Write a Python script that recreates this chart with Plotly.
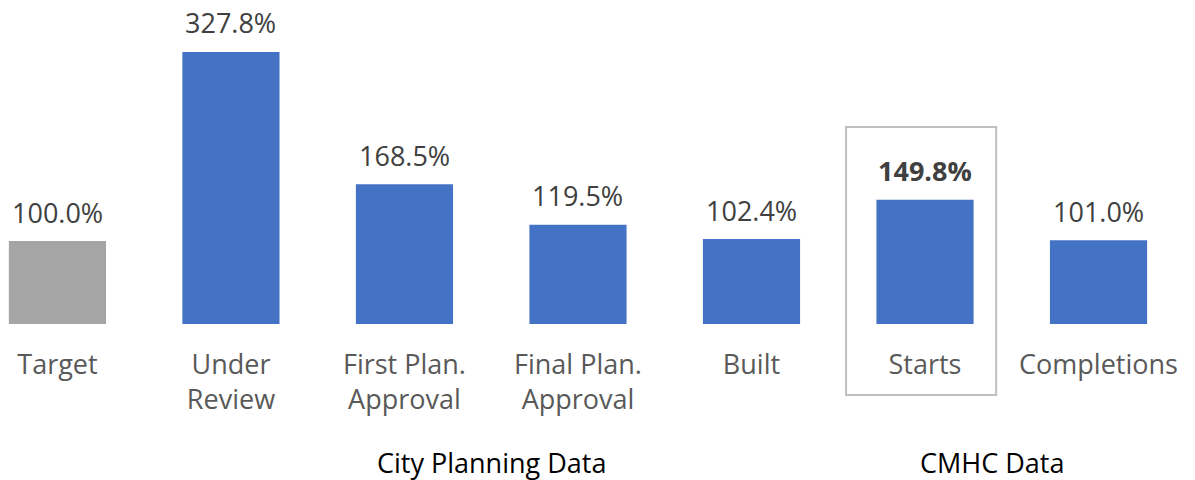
import plotly.graph_objects as go

categories = ["Target", "Under Review", "First Plan. Approval", "Final Plan. Approval", "Built", "Starts", "Completions"]
tick_labels = ["Target", "Under<br>Review", "First Plan.<br>Approval", "Final Plan.<br>Approval", "Built", "Starts", "Completions"]
values = [100.0, 327.8, 168.5, 119.5, 102.4, 149.8, 101.0]
bar_colors = ["#A5A5A5", "#4472C4", "#4472C4", "#4472C4", "#4472C4", "#4472C4", "#4472C4"]
groups = ["City Planning Data", "CMHC Data"]

labels = [f"{v:.1f}%" for v in values]
labels[5] = f"<b>{values[5]:.1f}%</b>"

FONT = "Open Sans"
FS = 27

fig = go.Figure()
fig.add_trace(go.Bar(
    x=list(range(len(categories))),
    y=values,
    marker=dict(color=bar_colors, line=dict(width=0)),
    width=0.56,
    cliponaxis=False,
    hovertext=categories,
))

for i, (v, lab) in enumerate(zip(values, labels)):
    fig.add_annotation(x=i, y=v, xref="x", yref="y", text=lab, showarrow=False,
                       yanchor="middle", xanchor="center", yshift=29,
                       font=dict(family=FONT, size=FS, color="#404040"))

fig.add_shape(type="rect", xref="x", yref="paper",
              x0=5 - 0.455, x1=5 + 0.41, y0=-0.219, y1=0.608,
              line=dict(color="#BFBFBF", width=2), fillcolor="rgba(0,0,0,0)")

fig.add_annotation(x=2.504, y=-0.429, xref="x", yref="paper", text=groups[0],
                   showarrow=False, font=dict(family=FONT, size=FS, color="#000000"),
                   xanchor="center", yanchor="middle")
fig.add_annotation(x=5.386, y=-0.429, xref="x", yref="paper", text=groups[1],
                   showarrow=False, font=dict(family=FONT, size=FS, color="#000000"),
                   xanchor="center", yanchor="middle")

fig.update_layout(
    width=1195, height=480,
    margin=dict(l=0, r=0, t=0, b=156),
    plot_bgcolor="white", paper_bgcolor="white",
    showlegend=False,
    xaxis=dict(range=[-0.331, 6.556], tickmode="array", automargin=False,
               tickvals=list(range(len(categories))), ticktext=tick_labels,
               tickfont=dict(family=FONT, size=FS, color="#595959"),
               ticklabelstandoff=22,
               showgrid=False, zeroline=False, showline=False, ticks="", ticklen=0),
    yaxis=dict(range=[0, 390.4], visible=False, showgrid=False, zeroline=False,
               automargin=False),
    font=dict(family=FONT),
)

fig.write_html("out.html", config={"displayModeBar": False},
               post_script="document.body.style.margin='0';document.body.style.overflow='hidden';")
